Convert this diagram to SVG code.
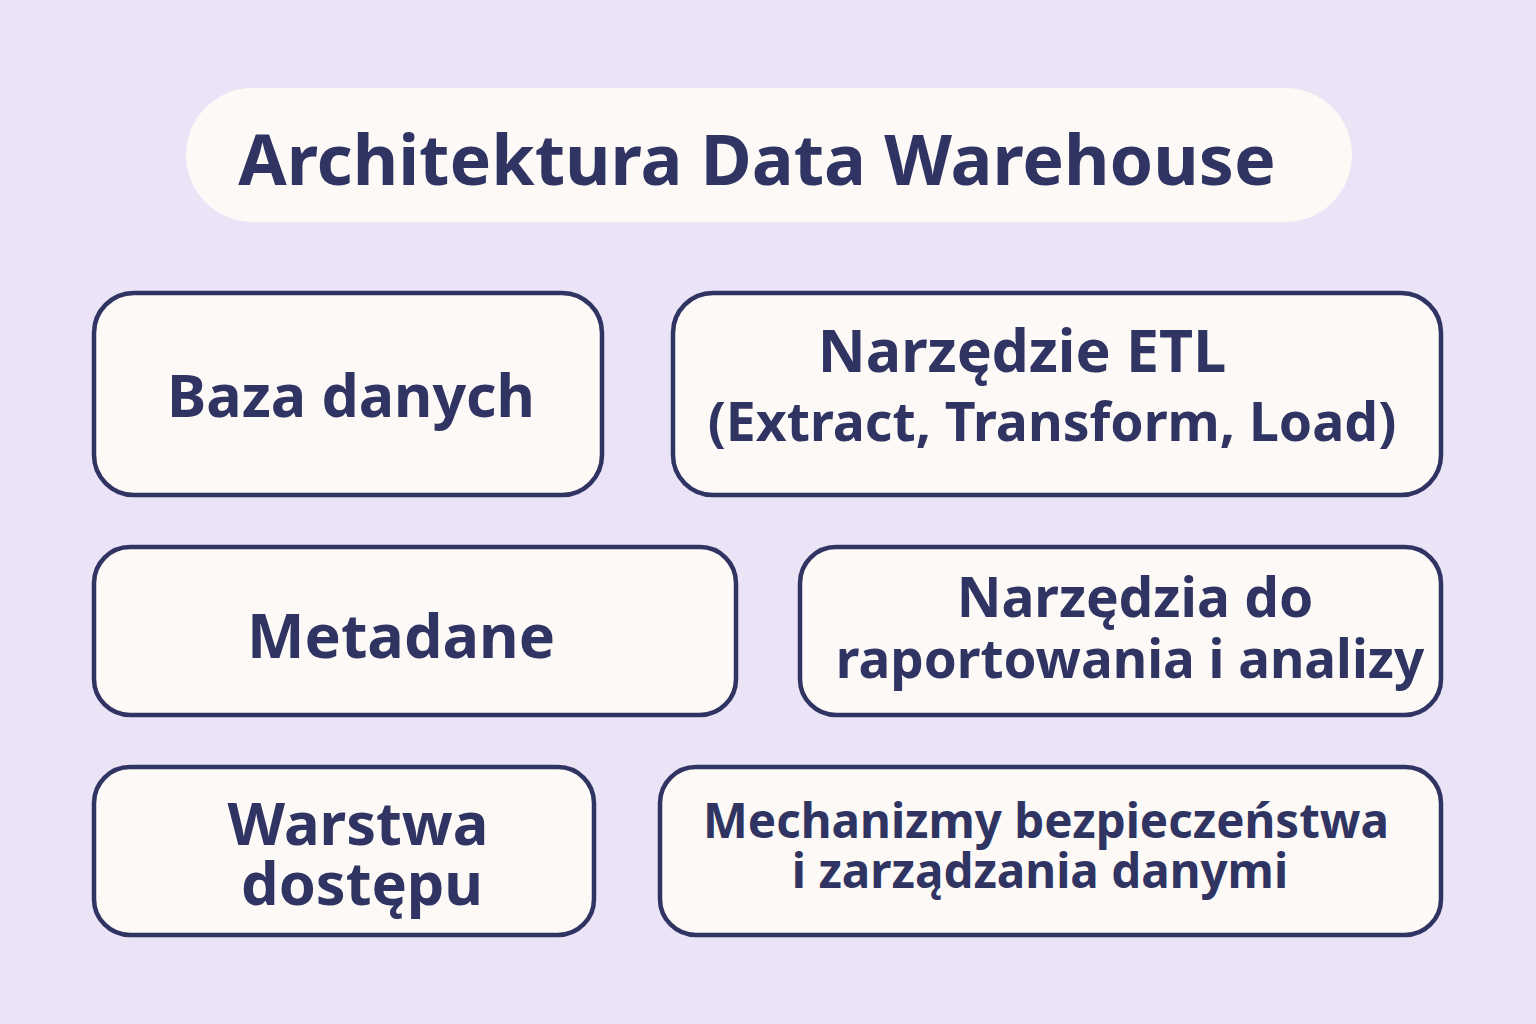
<svg xmlns="http://www.w3.org/2000/svg" width="1536" height="1024" viewBox="0 0 1536 1024">
<style>
.box{fill:#FDF9F7;stroke:#2F3462;stroke-width:4.5}
.t{font-family:"Noto Sans","Open Sans",sans-serif;font-weight:700;fill:#2F3462;text-anchor:middle}
</style>
<rect width="1536" height="1024" fill="#EBE4F6"/>
<g id="title">
<rect x="186" y="88" width="1166" height="134" rx="67" fill="#FDF9F7"/>
<text class="t" x="757" y="185" font-size="70">Architektura Data Warehouse</text>
</g>
<g id="connectors"></g>
<g id="baza">
<rect class="box" x="94" y="293" width="508" height="202" rx="40"/>
<text class="t" x="351" y="417" font-size="59">Baza danych</text>
</g>
<g id="etl">
<rect class="box" x="673" y="293" width="768" height="202" rx="40"/>
<text class="t" x="1022" y="372" font-size="59">Narzędzie ETL</text>
<text class="t" x="1052" y="441" font-size="53.5">(Extract, Transform, Load)</text>
</g>
<g id="metadane">
<rect class="box" x="94" y="547" width="642" height="168" rx="36"/>
<text class="t" x="401" y="658" font-size="61">Metadane</text>
</g>
<g id="raport">
<rect class="box" x="800" y="547" width="641" height="168" rx="36"/>
<text class="t" x="1135" y="617" font-size="55">Narzędzia do</text>
<text class="t" x="1130" y="678" font-size="53">raportowania i analizy</text>
</g>
<g id="warstwa">
<rect class="box" x="94" y="767" width="500" height="168" rx="36"/>
<text class="t" x="358" y="845" font-size="59.5">Warstwa</text>
<text class="t" x="362" y="905" font-size="59.5">dostępu</text>
</g>
<g id="mechanizmy">
<rect class="box" x="660" y="767" width="781" height="168" rx="36"/>
<text class="t" x="1046" y="838" font-size="47.5">Mechanizmy bezpieczeństwa</text>
<text class="t" x="1040" y="888" font-size="47.5">i zarządzania danymi</text>
</g>
</svg>
